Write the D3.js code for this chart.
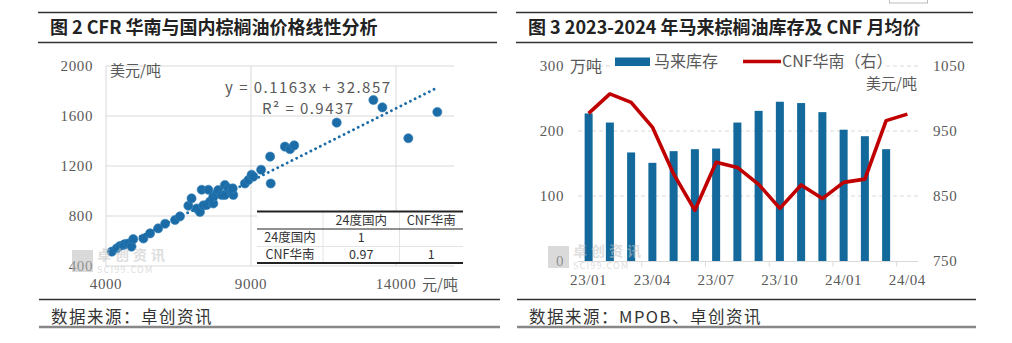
<!DOCTYPE html>
<html>
<head>
<meta charset="utf-8">
<script src="https://cdn.jsdelivr.net/npm/d3@7"></script>
<style>
  body { margin: 0; background: #fff; }
  svg { display: block; }
  text { font-family: "Noto Sans CJK SC", sans-serif; }
  .num { font-family: "Liberation Serif", serif; font-size: 15px; fill: #595959; }
</style>
</head>
<body>
<svg id="chart" width="1012" height="343"></svg>
<script>
// left panel: domestic price (yuan/t) vs CFR south china (usd/t)
const domestic = [4200, 4370, 4480, 4600, 4650, 4770, 4880, 4940, 5290, 5520, 5800, 6040, 6380, 6550,
  6840, 6950, 7130, 7240, 7300, 7530, 7360, 7470, 7590, 7700, 7700, 7820, 7870, 7990, 8100, 8100,
  8220, 8330, 8390, 8370, 8790, 8910, 9020, 9080, 9350, 9660, 9680, 10170, 10345, 10490,
  11955, 13220, 13530, 14425, 15425]
const cfr = [515, 541, 560, 568, 575, 580, 555, 615, 620, 661, 701, 738, 768, 797,
  882, 941, 860, 832, 1010, 1010, 885, 888, 915, 900, 955, 980, 1008, 968, 1048, 968,
  1021, 995, 968, 1021, 1060, 1088, 1130, 1115, 1170, 1275, 1060, 1355, 1335, 1365,
  1547, 1728, 1669, 1422, 1632]
const domesticTicks = [4000, 9000, 14000]
const cfrTicks = [400, 800, 1200, 1600, 2000]
const slope = 0.1163
const intercept = 32.857
const rSquared = 0.9437
const corrHeader = ["", "24度国内", "CNF华南"]
const corrRows = [["24度国内", "1", ""], ["CNF华南", "0.97", "1"]]

// right panel: malaysian palm oil stocks + CNF monthly average
const months = ["23/01", "23/02", "23/03", "23/04", "23/05", "23/06", "23/07", "23/08",
  "23/09", "23/10", "23/11", "23/12", "24/01", "24/02", "24/03", "24/04"]
const stocks = [227, 213, 167, 151, 169, 172, 173, 213, 231, 245, 243, 229, 202, 192, 172]
const cnfPrice = [977, 1007, 994, 956, 884, 828, 902, 894, 868, 831, 867, 846, 871, 876, 966, 976]
const stockTicks = [0, 100, 200, 300]
const priceTicks = [750, 850, 950, 1050]
const monthTicks = ["23/01", "23/04", "23/07", "23/10", "24/01", "24/04"]

const blue = "#1b6ca7"
const barBlue = "#13699b"
const red = "#c00000"
const grid = "#d9d9d9"
const grey = "#595959"

const svg = d3.select("#chart")

//BEGIN: FRAMES
const frame = (x0, x1, title, source) => {
  let g = svg.append("g")
  g.append("line").attr("x1", x0).attr("x2", x1).attr("y1", 12.5).attr("y2", 12.5)
    .attr("stroke", "#333").attr("stroke-width", 1.3)
  g.append("line").attr("x1", x0).attr("x2", x1).attr("y1", 42.5).attr("y2", 42.5)
    .attr("stroke", "#333").attr("stroke-width", 1.3)
  g.append("text").attr("x", x0 + 12).attr("y", 34).text(title)
    .attr("font-size", 18).attr("font-weight", 700).attr("fill", "#222")
  g.append("line").attr("x1", x0 + 1).attr("x2", x1 + 3).attr("y1", 299.5).attr("y2", 299.5)
    .attr("stroke", "#333").attr("stroke-width", 1.3)
  g.append("line").attr("x1", x0 + 1).attr("x2", x1 + 3).attr("y1", 327).attr("y2", 327)
    .attr("stroke", "#888").attr("stroke-width", 2.5)
  g.append("text").attr("x", x0 + 13).attr("y", 323).text(source)
    .attr("font-size", 16.5).attr("letter-spacing", 1.5).attr("fill", "#333")
}
frame(38, 497, "图 2 CFR 华南与国内棕榈油价格线性分析", "数据来源：卓创资讯")
frame(516, 973, "图 3 2023-2024 年马来棕榈油库存及 CNF 月均价", "数据来源：MPOB、卓创资讯")
svg.append("rect").attr("x", 889.5).attr("y", -2).attr("width", 38).attr("height", 5)
  .attr("fill", "none").attr("stroke", "#bbb")

// faint logo mark in the lower left of each plot
const watermark = (x, y) => {
  let g = svg.append("g").attr("opacity", 0.55)
  g.append("rect").attr("x", x).attr("y", y).attr("width", 21).attr("height", 22).attr("fill", "#bdbdbd")
  g.append("text").attr("x", x + 25).attr("y", y + 10).text("卓创资讯")
    .attr("font-size", 14).attr("letter-spacing", 4).attr("font-weight", 700).attr("fill", "#c4c4c4")
  g.append("text").attr("x", x + 25).attr("y", y + 23).text("SCI99.COM")
    .attr("font-family", "Liberation Serif").attr("font-size", 9).attr("letter-spacing", 1.2).attr("fill", "#c4c4c4")
}
//END: FRAMES

//BEGIN: SCATTER
const x = d3.scaleLinear().domain([4000, 16000]).range([106, 454])
const y = d3.scaleLinear().domain([400, 2000]).range([266, 66])

const left = svg.append("g")
watermark(72, 250)

left.selectAll("line.hgrid").data(cfrTicks.slice(1)).enter().append("line")
  .attr("x1", x(4000)).attr("x2", x(16000)).attr("y1", d => y(d)).attr("y2", d => y(d))
  .attr("stroke", grid)
left.selectAll("line.vgrid").data(domesticTicks.slice(1)).enter().append("line")
  .attr("x1", d => x(d)).attr("x2", d => x(d)).attr("y1", y(400)).attr("y2", y(2000))
  .attr("stroke", grid)
left.append("line").attr("x1", x(4000)).attr("x2", x(4000)).attr("y1", y(400)).attr("y2", y(2000)).attr("stroke", grid)
left.append("line").attr("x1", x(4000)).attr("x2", x(16000)).attr("y1", y(400)).attr("y2", y(400)).attr("stroke", grid)

left.selectAll("text.yt").data(cfrTicks).enter().append("text")
  .attr("class", "num").attr("x", 93).attr("y", d => y(d) + 5).attr("text-anchor", "end")
  .attr("letter-spacing", 0.6).text(d => d)
left.selectAll("text.xt").data(domesticTicks).enter().append("text")
  .attr("class", "num").attr("x", d => x(d)).attr("y", 289).attr("text-anchor", "middle")
  .attr("letter-spacing", 0.6).text(d => d)
left.append("text").attr("x", 110).attr("y", 76).text("美元/吨").attr("font-size", 15).attr("fill", grey)
left.append("text").attr("x", 422).attr("y", 290).text("元/吨").attr("font-size", 15).attr("fill", grey)

let pts = domestic.map((d, i) => ({ x: d, y: cfr[i] }))
left.selectAll("circle").data(pts).enter().append("circle")
  .attr("cx", d => x(d.x)).attr("cy", d => y(d.y)).attr("r", 4.6)
  .attr("fill", blue).attr("stroke", "#3b84bb").attr("stroke-width", 0.6)

let trendEnds = d3.extent(domestic)
left.append("path")
  .attr("d", d3.line().x(d => x(d)).y(d => y(slope * d + intercept))(trendEnds))
  .attr("stroke", blue).attr("stroke-width", 2.8).attr("stroke-linecap", "round")
  .attr("stroke-dasharray", "0.1,5.2").attr("fill", "none")

left.append("text").attr("x", 225).attr("y", 93)
  .attr("font-family", "Liberation Serif").attr("font-size", 15).attr("fill", grey)
  .attr("textLength", 165).attr("lengthAdjust", "spacing")
  .text(`y = ${slope}x + ${intercept}`)
left.append("text").attr("x", 262).attr("y", 114)
  .attr("font-family", "Liberation Serif").attr("font-size", 15).attr("fill", grey)
  .attr("textLength", 91).attr("lengthAdjust", "spacing")
  .text(`R² = ${rSquared}`)

// correlation table
let cols = [257, 323, 399.5, 463]
let rows = [211.5, 229, 246.5, 263]
let table = left.append("g")
table.append("rect").attr("x", cols[0]).attr("y", rows[0]).attr("width", cols[3] - cols[0])
  .attr("height", rows[3] - rows[0]).attr("fill", "#fff")
table.selectAll("line.col").data(cols.slice(1, 3)).enter().append("line")
  .attr("x1", d => d).attr("x2", d => d).attr("y1", rows[0]).attr("y2", rows[3]).attr("stroke", "#e4e4e4")
table.append("line").attr("x1", cols[0]).attr("x2", cols[3]).attr("y1", rows[2]).attr("y2", rows[2]).attr("stroke", "#e4e4e4")
table.append("line").attr("x1", cols[0]).attr("x2", cols[3]).attr("y1", rows[1]).attr("y2", rows[1]).attr("stroke", "#222").attr("stroke-width", 1)
table.append("line").attr("x1", cols[0]).attr("x2", cols[3]).attr("y1", rows[0]).attr("y2", rows[0]).attr("stroke", "#222").attr("stroke-width", 2)
table.append("line").attr("x1", cols[0]).attr("x2", cols[3]).attr("y1", rows[3]).attr("y2", rows[3]).attr("stroke", "#222").attr("stroke-width", 2)
;[corrHeader].concat(corrRows).forEach((row, r) => {
  row.forEach((cell, c) => {
    table.append("text").attr("x", (cols[c] + cols[c + 1]) / 2).attr("y", (rows[r] + rows[r + 1]) / 2 + 4.5)
      .attr("text-anchor", "middle").attr("font-size", 12.5).attr("fill", "#333").text(cell)
  })
})
//END: SCATTER

//BEGIN: BAR + LINE
const band = d3.scaleBand().domain(months).range([578, 918])
const yStock = d3.scaleLinear().domain([0, 300]).range([261, 66])
const yPrice = d3.scaleLinear().domain([750, 1050]).range([261, 66])
const right = svg.append("g")
watermark(548, 246)

right.selectAll("line.grid").data(stockTicks.slice(1)).enter().append("line")
  .attr("x1", 578).attr("x2", 918).attr("y1", d => yStock(d)).attr("y2", d => yStock(d))
  .attr("stroke", grid).attr("stroke-dasharray", "4,3")

right.selectAll("rect.bar").data(stocks).enter().append("rect")
  .attr("x", (d, i) => band(months[i]) + band.bandwidth() / 2 - 4)
  .attr("width", 8)
  .attr("y", d => yStock(d)).attr("height", d => yStock(0) - yStock(d))
  .attr("fill", barBlue)

right.append("line").attr("x1", 578).attr("x2", 918).attr("y1", 261.5).attr("y2", 261.5).attr("stroke", grid)
right.selectAll("line.tick").data(monthTicks.slice(1)).enter().append("line")
  .attr("x1", d => band(d)).attr("x2", d => band(d)).attr("y1", 261.5).attr("y2", 266.5).attr("stroke", grid)
right.selectAll("text.mt").data(monthTicks).enter().append("text")
  .attr("class", "num").attr("x", d => band(d) + band.bandwidth() / 2).attr("y", 285)
  .attr("text-anchor", "middle").attr("letter-spacing", 0.6).text(d => d)

right.append("path")
  .attr("d", d3.line().x((d, i) => band(months[i]) + band.bandwidth() / 2).y(d => yPrice(d))(cnfPrice))
  .attr("fill", "none").attr("stroke", red).attr("stroke-width", 3.6).attr("stroke-linejoin", "round")

right.selectAll("text.lt").data(stockTicks).enter().append("text")
  .attr("class", "num").attr("x", 564).attr("y", d => yStock(d) + 5).attr("text-anchor", "end")
  .attr("letter-spacing", 0.6).text(d => d)
right.append("text").attr("x", 570).attr("y", 72).text("万吨").attr("font-size", 16).attr("fill", grey)
right.selectAll("text.rt").data(priceTicks).enter().append("text")
  .attr("class", "num").attr("x", 933).attr("y", d => yPrice(d) + 5)
  .attr("letter-spacing", 0.6).text(d => d)
right.append("text").attr("x", 866).attr("y", 89).text("美元/吨").attr("font-size", 15).attr("fill", grey)

// legend
let legend = right.append("g")
legend.append("rect").attr("x", 611).attr("y", 53).attr("width", 274).attr("height", 18).attr("fill", "#fff")
legend.append("rect").attr("x", 615).attr("y", 57.5).attr("width", 35).attr("height", 8.5).attr("fill", barBlue)
legend.append("text").attr("x", 654).attr("y", 67).text("马来库存").attr("font-size", 16).attr("fill", grey)
legend.append("line").attr("x1", 743).attr("x2", 781).attr("y1", 61.5).attr("y2", 61.5)
  .attr("stroke", red).attr("stroke-width", 3.6)
legend.append("text").attr("x", 782).attr("y", 67).text("CNF华南（右）").attr("font-size", 16).attr("fill", grey)
//END: BAR + LINE
</script>
</body>
</html>
